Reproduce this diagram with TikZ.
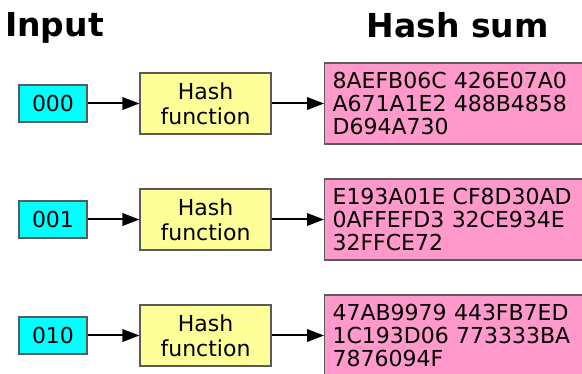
\documentclass[tikz,border=0pt]{standalone}
\usepackage{fontspec}
\setmainfont{DejaVu Sans}
\usetikzlibrary{arrows.meta}
\definecolor{incyan}{RGB}{0,255,255}
\definecolor{hashyellow}{RGB}{255,255,153}
\definecolor{sumpink}{RGB}{255,153,204}
\definecolor{bordergray}{RGB}{90,90,90}
\begin{document}
\begin{tikzpicture}[x=1pt,y=-1pt,
  boxbase/.style={draw=bordergray, line width=1.2pt, inner sep=0pt},
  inbox/.style={boxbase, fill=incyan, minimum width=68pt, minimum height=37pt,
    font=\fontsize{22}{24}\selectfont},
  hashbox/.style={boxbase, fill=hashyellow, minimum width=131pt, minimum height=61pt,
    align=center, font=\fontsize{22}{25}\selectfont},
  sumbox/.style={boxbase, fill=sumpink, minimum height=81pt, text width=284pt,
    inner xsep=8pt, align=left, anchor=west, font=\fontsize{22}{23.4}\selectfont},
  flow/.style={-{Triangle[length=17pt,width=12.5pt]}, line width=2pt, black},
  heading/.style={font=\fontsize{33}{40}\selectfont\bfseries, inner sep=0pt, anchor=base west}]
\useasboundingbox (0,0) rectangle (582,374);
\clip (0,0) rectangle (582,374);
\fill[white] (0,0) rectangle (582,374);

\node[heading] (hin) at (5,37) {Input};
\node[heading] (hsum) at (366.5,37.2) {Hash sum};

% row 1
\node[inbox] (in1) at (53,103.5) {000};
\node[hashbox] (hf1) at (205.5,103.5) {Hash\\function};
\node[sumbox] (hs1) at (324,103.5) {8AEFB06C 426E07A0\\A671A1E2 488B4858\\D694A730};
\draw[flow] (in1) -- (hf1);
\draw[flow] (hf1) -- (hs1);

% row 2
\node[inbox] (in2) at (53,219.5) {001};
\node[hashbox] (hf2) at (205.5,219.5) {Hash\\function};
\node[sumbox] (hs2) at (324,219.5) {E193A01E CF8D30AD\\0AFFEFD3 32CE934E\\32FFCE72};
\draw[flow] (in2) -- (hf2);
\draw[flow] (hf2) -- (hs2);

% row 3
\node[inbox] (in3) at (53,335.5) {010};
\node[hashbox] (hf3) at (205.5,335.5) {Hash\\function};
\node[sumbox] (hs3) at (324,335.5) {47AB9979 443FB7ED\\1C193D06 773333BA\\7876094F};
\draw[flow] (in3) -- (hf3);
\draw[flow] (hf3) -- (hs3);
\end{tikzpicture}
\end{document}
